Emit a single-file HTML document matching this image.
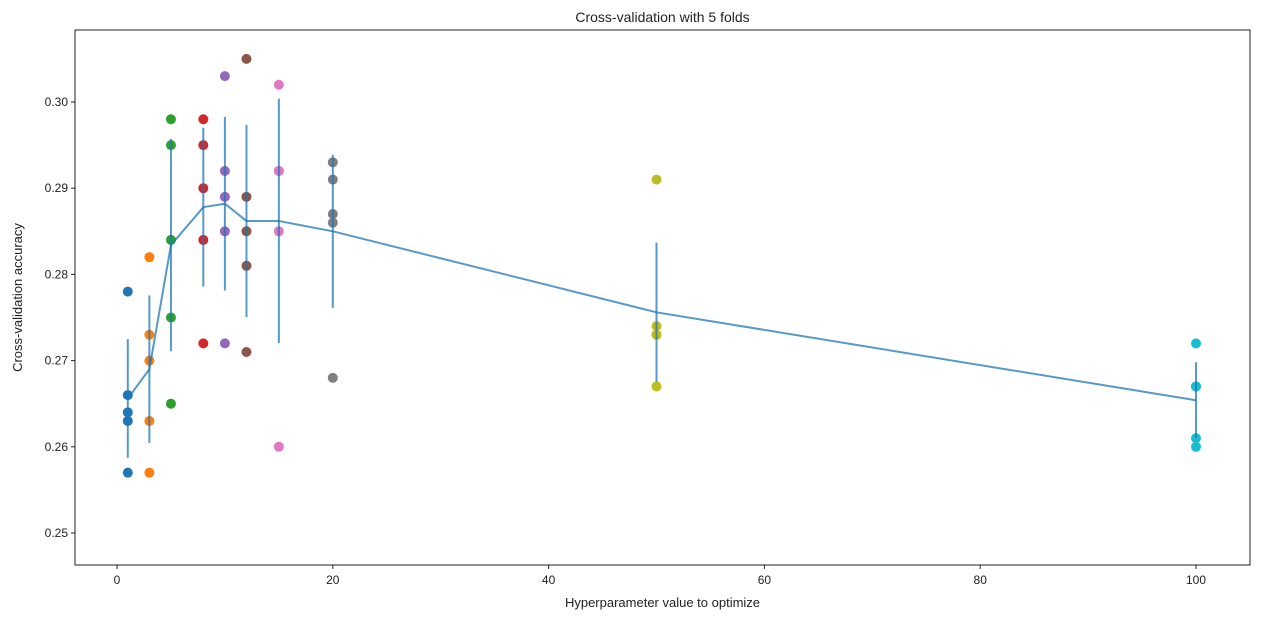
<!DOCTYPE html>
<html><head><meta charset="utf-8"><style>
body{margin:0;background:#fff;font-family:"Liberation Sans","DejaVu Sans",sans-serif}
text{font-family:"Liberation Sans","DejaVu Sans",sans-serif;fill:#222}
</style></head><body>
<svg id="chart" width="1280" height="623" xmlns="http://www.w3.org/2000/svg"></svg>
<script>
const xValues=[1,3,5,8,10,12,15,20,50,100];
const foldScores=[
[0.278,0.266,0.264,0.263,0.257],
[0.282,0.273,0.270,0.263,0.257],
[0.298,0.295,0.284,0.275,0.265],
[0.298,0.295,0.290,0.284,0.272],
[0.303,0.292,0.289,0.285,0.272],
[0.305,0.289,0.285,0.281,0.271],
[0.302,0.292,0.292,0.285,0.260],
[0.293,0.291,0.287,0.286,0.268],
[0.291,0.274,0.273,0.273,0.267],
[0.272,0.267,0.267,0.261,0.260]];
const xTicks=[0,20,40,60,80,100];
const yTicks=[0.25,0.26,0.27,0.28,0.29,0.30];
const colors=['#1f77b4','#ff7f0e','#2ca02c','#d62728','#9467bd','#8c564b','#e377c2','#7f7f7f','#bcbd22','#17becf'];
const L=75,R=1250,T=30,B=565;
const xs=v=>117+(v-0)*(1196-117)/100;
const ys=v=>533-(v-0.25)*(533-102)/0.05;
const svg=document.getElementById('chart');
const NS='http://www.w3.org/2000/svg';
function el(tag,attrs,parent){const e=document.createElementNS(NS,tag);for(const k in attrs)e.setAttribute(k,attrs[k]);(parent||svg).appendChild(e);return e;}
const frame=el('rect',{x:L,y:T,width:R-L,height:B-T,fill:'none',stroke:'#222','stroke-width':1});


xTicks.forEach(t=>{
 const l=el('line',{x1:xs(t),x2:xs(t),y1:B,y2:B+4,stroke:'#222'});
 
 
 const tx=el('text',{x:xs(t),y:B+19,'text-anchor':'middle','font-size':12});tx.textContent=t;
 
 
});
yTicks.forEach(t=>{
 const l=el('line',{x1:L-4,x2:L,y1:ys(t),y2:ys(t),stroke:'#222'});
 
 
 const tx=el('text',{x:L-7,y:ys(t)+4,'text-anchor':'end','font-size':12});tx.textContent=t.toFixed(2);
 
 
});
const ti=el('text',{x:(L+R)/2,y:22,'text-anchor':'middle','font-size':14});ti.textContent='Cross-validation with 5 folds';


const xl=el('text',{x:(L+R)/2,y:607,'text-anchor':'middle','font-size':13});xl.textContent='Hyperparameter value to optimize';


const yl=el('text',{x:0,y:0,'text-anchor':'middle','font-size':13,transform:`translate(22,${(T+B)/2}) rotate(-90)`});yl.textContent='Cross-validation accuracy';


// scatter
foldScores.forEach((arr,i)=>{arr.forEach(v=>{
 const c=el('circle',{cx:xs(xValues[i]),cy:ys(v),r:5,fill:colors[i]});
 
 
});});
// means & std
const means=foldScores.map(a=>a.reduce((s,v)=>s+v,0)/a.length);
const stds=foldScores.map((a,i)=>Math.sqrt(a.reduce((s,v)=>s+(v-means[i])**2,0)/a.length));
const line=el('polyline',{points:means.map((m,i)=>xs(xValues[i])+','+ys(m)).join(' '),fill:'none',stroke:'#1f77b4','stroke-width':2,'stroke-opacity':0.75});


means.forEach((m,i)=>{
 const e=el('line',{x1:xs(xValues[i]),x2:xs(xValues[i]),y1:ys(m-stds[i]),y2:ys(m+stds[i]),stroke:'#1f77b4','stroke-width':2,'stroke-opacity':0.75});
 
 
});
</script>
</body></html>
